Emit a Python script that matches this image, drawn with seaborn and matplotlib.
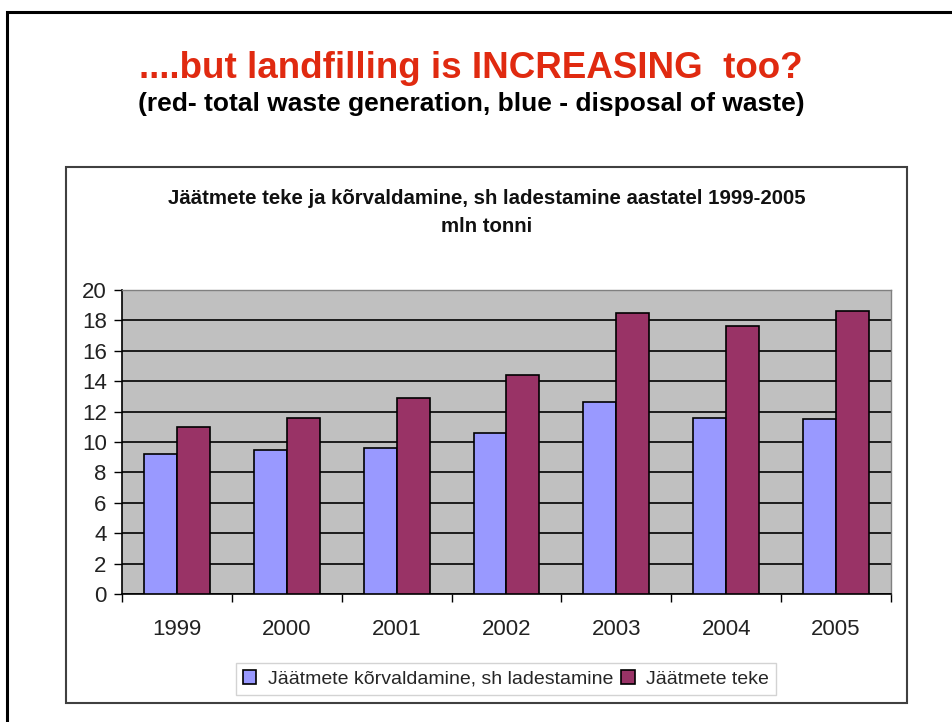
import numpy as np
import pandas as pd
import matplotlib
matplotlib.use("Agg")
import matplotlib.pyplot as plt
from matplotlib.patches import Rectangle
import seaborn as sns

# Andmed (loetud pildilt), mln tonni
aastad = ['1999', '2000', '2001', '2002', '2003', '2004', '2005']
korvaldamine = [9.2, 9.5, 9.6, 10.6, 12.6, 11.6, 11.5]
teke = [11.0, 11.6, 12.9, 14.4, 18.5, 17.6, 18.6]
seeria_nimed = ['Jäätmete kõrvaldamine, sh ladestamine', 'Jäätmete teke']
y_ticks = [0, 2, 4, 6, 8, 10, 12, 14, 16, 18, 20]

df = pd.DataFrame({
    'aasta': aastad * 2,
    'vaartus': korvaldamine + teke,
    'seeria': [seeria_nimed[0]] * len(aastad) + [seeria_nimed[1]] * len(aastad),
})

sns.set_style("white")
plt.rcParams['font.family'] = ['Liberation Sans', 'DejaVu Sans']

W, H = 953, 722
fig = plt.figure(figsize=(W / 100, H / 100), dpi=100)

# slaidi raam
fig.patches.append(Rectangle((7 / W, -0.05), 1.2, 1 - 12 / H + 0.05, transform=fig.transFigure,
                             fill=False, edgecolor='black', linewidth=2.2))
# diagrammi kast
fig.patches.append(Rectangle((66 / W, 1 - 703 / H), (907 - 66) / W, (703 - 167) / H,
                             transform=fig.transFigure, fill=False, edgecolor='#404040', linewidth=1.5))

fig.text(471 / W, 1 - 68 / H, '....but landfilling is INCREASING  too?', ha='center', va='center',
         color='#E02A10', fontsize=26.5, fontweight='bold')
fig.text(471 / W, 1 - 104 / H, '(red- total waste generation, blue - disposal of waste)', ha='center',
         va='center', color='black', fontsize=19, fontweight='bold')
fig.text(487 / W, 1 - 199 / H, 'Jäätmete teke ja kõrvaldamine, sh ladestamine aastatel 1999-2005',
         ha='center', va='center', fontsize=14.7, fontweight='bold', color='#111111')
fig.text(487 / W, 1 - 226 / H, 'mln tonni', ha='center', va='center', fontsize=14.7,
         fontweight='bold', color='#111111')

ax = fig.add_axes([122 / W, 1 - 594 / H, (891 - 122) / W, (594 - 290) / H])
ax.set_facecolor('#C0C0C0')
sns.barplot(data=df, x='aasta', y='vaartus', hue='seeria', order=aastad, hue_order=seeria_nimed,
            palette=['#9999FF', '#993366'], width=0.6, edgecolor='black', linewidth=1.2,
            saturation=1, ax=ax, zorder=3)

ax.set_ylim(0, 20)
ax.set_xlim(-0.5, len(aastad) - 0.5)
ax.set_yticks(y_ticks)
ax.yaxis.grid(True, color='black', linewidth=1.2, zorder=1)
ax.set_axisbelow(True)
ax.set_xlabel('')
ax.set_ylabel('')
for s in ['top', 'right']:
    ax.spines[s].set_color('#808080')
    ax.spines[s].set_linewidth(1)
for s in ['left', 'bottom']:
    ax.spines[s].set_color('black')
    ax.spines[s].set_linewidth(1.2)

ax.set_xticks(np.arange(-0.5, len(aastad)), minor=True)
ax.tick_params(axis='x', which='minor', length=6, width=1, color='black', direction='out', bottom=True)
ax.tick_params(axis='x', which='major', length=0, pad=18, labelsize=16, labelcolor='#222222')
ax.tick_params(axis='y', length=6, width=1, color='black', direction='out', left=True,
               labelsize=16, labelcolor='#222222', pad=5)

ax.legend_.remove()
handles, labels = ax.get_legend_handles_labels()
leg = fig.legend(handles, labels, loc='center', bbox_to_anchor=(506 / W, 1 - 679 / H), ncol=2,
                 frameon=True, fancybox=False, fontsize=14, handlelength=0.7, handleheight=0.7,
                 handletextpad=0.6, columnspacing=0.4, borderpad=0.35, edgecolor='#C8C8C8')
leg.get_frame().set_linewidth(1)

fig.savefig('out.png', dpi=100)
